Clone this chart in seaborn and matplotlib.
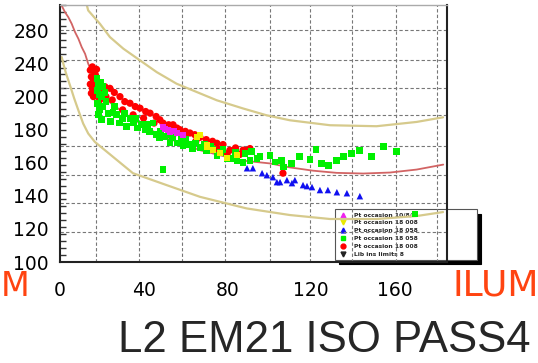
import numpy as np
import pandas as pd
import matplotlib
matplotlib.use("Agg")
import matplotlib.pyplot as plt
import seaborn as sns
from matplotlib.lines import Line2D

# ---------------- data ----------------
red_x = [14.5, 15.5, 16.5, 17.5, 15.0, 16.0, 17.0, 18.0, 14.5, 15.5, 16.5, 17.5, 15.0, 16.0, 18.5, 19.5, 20.5, 19.0,
         21.5, 23.9, 26.0, 28.7, 31.0, 33.5, 36.0, 38.3, 41.0, 43.1, 46.0, 47.8, 49.3, 52.0, 54.1, 56.0, 57.4, 60.0,
         62.2, 64.5, 67.0, 70.0, 73.0, 75.1, 78.0, 81.3, 84.0, 87.6, 89.3, 90.9, 106.7,
         22, 25, 30, 35, 40, 45, 50, 55, 60, 65, 70, 76, 80, 86]
red_y = [232, 236, 230, 233, 224, 220, 226, 218, 215, 210, 213, 205, 204, 200, 209, 214, 204, 198,
         212, 210, 205, 200, 197, 196, 194, 193, 191, 190, 188, 186, 184, 183, 183, 181, 180, 179,
         178, 177, 175.4, 174, 173, 171.8, 171, 167.6, 169, 167.6, 167.6, 168.6, 153.7,
         200, 198, 192, 189, 187, 184, 181, 178, 176, 173, 171, 168, 165.5, 165]

green_x = [17.7, 18.5, 19.5, 20.5, 18.0, 19.0, 20.0, 21.5, 18.0, 19.0, 20.5, 22.0, 18.5, 20.0, 23.0,
           25.4, 24.0, 27.0, 28.5, 30.0, 33.5, 32.0, 35.0, 37.0, 39.0, 41.0, 43.0, 44.5, 46.0, 47.8, 50.0,
           52.6, 54.0, 56.0, 58.9, 60.0, 62.0, 63.6, 67.0, 69.0, 70.3, 73.0, 75.1, 77.0, 79.9, 82.8, 84.7,
           87.6, 88.5, 90.9, 91.7, 94.3, 95.7, 100.5, 102.9, 106.1, 106.8, 110.9, 114.8, 119.6, 122.5,
           125.2, 128.4, 132.4, 135.6, 139.6, 143.5, 149.1, 154.7, 161.1, 169.9, 49.3,
           26, 31, 36, 42, 48, 53, 58, 65, 72, 78, 84]
green_y = [222, 215, 217, 212, 207, 203, 200, 205, 196, 192, 194, 197, 189, 186, 190,
           190.5, 185, 189, 184, 187, 187, 182, 184, 181, 183, 180, 179, 184, 177, 175.4, 176,
           172.4, 175, 172, 170.6, 174, 171, 168.8, 169.4, 171, 167.6, 168, 164.6, 166, 162.8, 162.8, 161.6,
           160.4, 165.6, 161.6, 166.6, 162.8, 163.6, 164.6, 160.5, 161.6, 157.5, 159.6, 164.0, 162.0, 168.0,
           159.6, 158.5, 161.6, 164.0, 165.6, 167.6, 164.0, 170.0, 166.6, 129.0, 156.1,
           194, 190, 187, 183, 179, 177, 174, 172, 170, 168, 166.5]

magenta_x = [49.3, 50.2, 51.7, 52.6, 54.5, 56.0, 58.9]
magenta_y = [181.5, 180.3, 179.7, 178.5, 179.0, 177.9, 176.6]

yellow_x = [65.6, 67.0, 70.3, 70.3, 73.2, 76.6, 79.9, 84.7]
yellow_y = [175.4, 176.6, 170.6, 169.4, 167.6, 165.8, 162.8, 164.6]

blue_x = [89.5, 92.3, 96.7, 99.0, 101.9, 103.8, 105.3, 108.6, 111.0, 112.4, 116.3, 118.2, 120.6, 124.4,
          128.2, 132.5, 137.3, 143.5]
blue_y = [156.7, 156.7, 153.7, 152.5, 151.3, 148.3, 148.3, 149.5, 147.7, 149.5, 146.5, 145.9, 145.3, 143.5,
          143.5, 142.2, 141.6, 139.8]

redcurve_x = [0.8, 2.4, 4.0, 5.6, 7.2, 8.8, 10.4, 12.0, 13.5, 15.2, 16.4, 19.1, 23.9, 33.5, 47.8, 67.0, 86.1,
              100.5, 110.0, 121.2, 132.4, 145.1, 157.9, 170.7, 183.4]
redcurve_y = [310, 302.1, 296.0, 288.1, 278.0, 270.0, 259.8, 251.8, 239.8, 229.6, 221.6, 206, 196.5, 187.5,
              176.6, 167.6, 161.5, 159.6, 157.2, 155.2, 153.9, 153.5, 154.1, 155.9, 158.9]

tanup_x = [12.9, 13.5, 19.1, 23.9, 30.3, 38.3, 46.3, 55.8, 65.4, 75.0, 87.7, 98.9, 110.0, 129.2, 151.5,
           170.7, 183.3]
tanup_y = [310, 304.2, 288.1, 272.0, 258.0, 243.8, 229.6, 215.6, 205.6, 197.8, 192.8, 188.7, 185.7, 182.7,
           182.1, 184.7, 187.5]

tanlow_x = [0.8, 1.6, 2.7, 4.0, 5.3, 6.8, 8.8, 11.1, 13.5, 16.7, 21.5, 34.9, 51.0, 67.0, 89.3, 110.0,
            129.2, 151.5, 170.7, 183.3]
tanlow_y = [247.8, 239.8, 229.6, 219.6, 209.6, 198.9, 191.7, 183.7, 177.7, 172.6, 167.6, 153.7, 146.5,
            139.4, 132.4, 128.4, 126.0, 126.0, 127.8, 130.2]

x_ticks = [0, 40, 80, 120, 160]
y_ticks = [100, 120, 140, 160, 180, 200, 240, 280]
grid_x = [17.2, 37.8, 58.4, 78.9, 100.5, 119.6, 139.7, 160.8, 180.4]
grid_y = [280, 243.8, 210, 188.7, 170, 152.5, 135.6, 118.1]

legend_labels = ["Pt occasion 10/8/8", "Pt occasion 18 008", "Pt occasion 18 058",
                 "Pt occasion 18 058", "Pt occasion 18 008", "Lib ins limits 8"]
title_text = "L2 EM21 ISO PASS4"
side_text = "ILUM"
side_text_left = "M"

# ---------------- style ----------------
sns.set_style("white")
plt.rcParams["font.family"] = ["DejaVu Sans"]

fig = plt.figure(figsize=(5.38, 3.63), dpi=100)
ax = fig.add_axes([60 / 538, 1 - 262 / 363, 387 / 538, 257 / 363])


def fwd(v):
    v = np.asarray(v, dtype=float)
    return np.where(v <= 200, v, 200 + (v - 200) / 2.0)


def inv(u):
    u = np.asarray(u, dtype=float)
    return np.where(u <= 200, u, 200 + 2.0 * (u - 200))


# curves
tan = "#d6ca8c"
sns.lineplot(x=tanup_x, y=tanup_y, sort=False, estimator=None, color=tan, lw=1.6, ax=ax, zorder=2)
sns.lineplot(x=tanlow_x, y=tanlow_y, sort=False, estimator=None, color=tan, lw=1.6, ax=ax, zorder=2)
sns.lineplot(x=redcurve_x, y=redcurve_y, sort=False, estimator=None, color="#d26464", lw=1.3, ax=ax, zorder=2)

# points
sns.scatterplot(x=red_x, y=red_y, marker="o", s=27, color="#ff0000", edgecolor="none", ax=ax, zorder=3)
sns.scatterplot(x=green_x, y=green_y, marker="s", s=24, color="#00f000", edgecolor="none", ax=ax, zorder=3)
sns.scatterplot(x=magenta_x, y=magenta_y, marker="s", s=20, color="#ee22ee", edgecolor="none", ax=ax, zorder=3)
sns.scatterplot(x=yellow_x, y=yellow_y, marker="s", s=20, color="#f0f000", edgecolor="none", ax=ax, zorder=3)
sns.scatterplot(x=blue_x, y=blue_y, marker="^", s=22, color="#1010f0", edgecolor="none", ax=ax, zorder=3)

ax.set_yscale("function", functions=(fwd, inv))
ax.set_xlim(0, 185.2)
ax.set_ylim(100, 310)

for gx in grid_x:
    ax.axvline(gx, color="#777777", lw=0.8, ls=(0, (3, 2)), zorder=1.8)
for gy in grid_y:
    ax.axhline(gy, color="#777777", lw=0.8, ls=(0, (3, 2)), zorder=1.8)

ax.set_xticks(x_ticks)
ax.set_yticks(y_ticks)
ax.set_xticklabels([str(t) for t in x_ticks])
ax.set_yticklabels([str(t) for t in y_ticks])
ax.set_yticks(inv(np.arange(100, 256, 4.2)), minor=True)
ax.tick_params(axis="x", length=0, pad=13.5, labelsize=13.5, colors="black")
ax.tick_params(axis="y", which="major", length=0, pad=8, labelsize=13.5, colors="black")
ax.tick_params(axis="y", which="minor", direction="in", length=4, width=1, color="#333333", left=True)
ax.set_xlabel("")
ax.set_ylabel("")

for side in ["left", "bottom", "right"]:
    ax.spines[side].set_color("#222222")
    ax.spines[side].set_linewidth(1.5)
ax.spines["top"].set_color("#aaaaaa")
ax.spines["top"].set_linewidth(1.0)

handles = [
    Line2D([], [], marker="^", ls="none", color="#ee22ee", ms=3.5),
    Line2D([], [], marker="v", ls="none", color="#e8e800", ms=3.5),
    Line2D([], [], marker="^", ls="none", color="#1010f0", ms=3.5),
    Line2D([], [], marker="s", ls="none", color="#00f000", ms=3.5),
    Line2D([], [], marker="o", ls="none", color="#ff0000", ms=3.5),
    Line2D([], [], marker="v", ls="none", color="#222222", ms=3.5),
]
leg = ax.legend(handles, legend_labels, loc="lower left",
                bbox_to_anchor=(0.711, 0.008, 0.367, 0.214), mode="expand",
                prop={"weight": "bold", "size": 4.3}, frameon=True, fancybox=False,
                borderpad=0.5, labelspacing=0.45, handlelength=1.5, handletextpad=1.2,
                borderaxespad=0, edgecolor="#555555", facecolor="white", framealpha=1,
                shadow={"ox": 3, "oy": -3, "color": "black", "alpha": 1})
leg.get_frame().set_linewidth(0.8)
leg.set_zorder(1.5)

fig.text(453 / 538, 1 - 286 / 363, side_text, color="#ff4411", fontsize=26, ha="left", va="center")
fig.text(0.5 / 538, 1 - 286 / 363, side_text_left, color="#ff4411", fontsize=24, ha="left", va="center")
fig.text(324 / 538, 1 - 340 / 363, title_text, color="#262626", fontsize=31.5,
         family=["Liberation Sans", "DejaVu Sans"], ha="center", va="center")

fig.savefig("out.png", dpi=100)
